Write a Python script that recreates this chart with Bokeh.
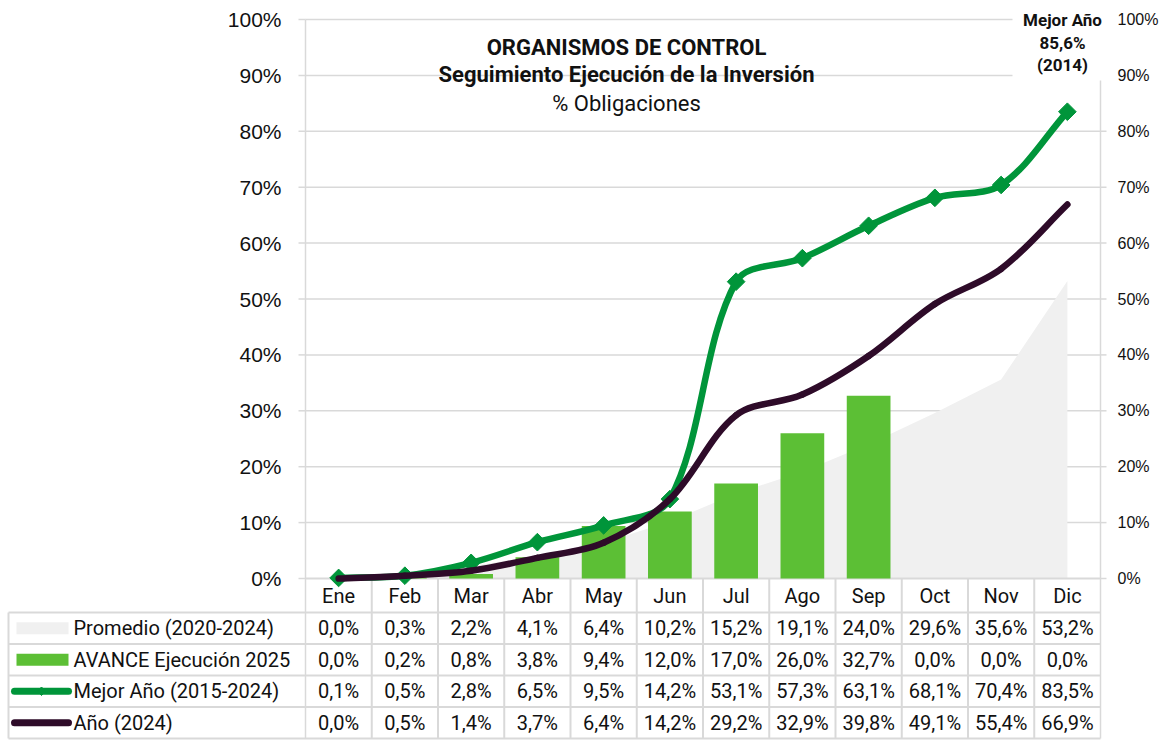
import math
from bokeh.plotting import figure
from bokeh.models import Range1d, ColumnDataSource
from bokeh.embed import file_html
from bokeh.resources import INLINE
from bokeh.core.properties import value

# ---------------- data ----------------
months = ["Ene", "Feb", "Mar", "Abr", "May", "Jun", "Jul", "Ago", "Sep", "Oct", "Nov", "Dic"]
promedio = [0.0, 0.3, 2.2, 4.1, 6.4, 10.2, 15.2, 19.1, 24.0, 29.6, 35.6, 53.2]
avance = [0.0, 0.2, 0.8, 3.8, 9.4, 12.0, 17.0, 26.0, 32.7, 0.0, 0.0, 0.0]
mejor = [0.1, 0.5, 2.8, 6.5, 9.5, 14.2, 53.1, 57.3, 63.1, 68.1, 70.4, 83.5]
anio = [0.0, 0.5, 1.4, 3.7, 6.4, 14.2, 29.2, 32.9, 39.8, 49.1, 55.4, 66.9]
series_names = ["Promedio (2020-2024)", "AVANCE Ejecución 2025", "Mejor Año (2015-2024)", "Año (2024)"]
y_ticks = [0, 10, 20, 30, 40, 50, 60, 70, 80, 90, 100]
y_tick_labels = ["%d%%" % v for v in y_ticks]
title_lines = ["ORGANISMOS DE CONTROL", "Seguimiento Ejecución de la Inversión", "% Obligaciones"]
note_lines = ["Mejor Año", "85,6%", "(2014)"]

# ---------------- style / layout ----------------
C_AREA = "#f0f0f0"
C_BAR = "#5cbf35"
C_BEST = "#00953a"
C_2024 = "#2e0b29"
C_GRID = "#d9d9d9"
C_TEXT = "#111111"
FONT = value("Roboto")
AXFONT = value("Liberation Sans")

W, H = 1159, 740
PLOT_L, PLOT_R = 305, 1100      # px of the plot area
PLOT_0, PLOT_100 = 578, 19      # px of 0% and 100%
CAT_PX = (PLOT_R - PLOT_L) / 12.0
PXU = (PLOT_0 - PLOT_100) / 100.0
HDR_BOT = 612
ROW_PX = 31.5
TAB_L = 8


def X(px):
    return (px - PLOT_L) / CAT_PX


def Y(py):
    return (PLOT_0 - py) / PXU


xs = [i + 0.5 for i in range(len(months))]


def smooth(xv, yv):
    """Bezier segments through the points (chord-weighted cardinal spline, like a smoothed line)."""
    n = len(xv)

    def dist(a, b):
        return math.hypot((xv[b] - xv[a]) * CAT_PX, (yv[b] - yv[a]) * PXU)

    d = dict(x0=[], y0=[], x1=[], y1=[], cx0=[], cy0=[], cx1=[], cy1=[])
    for i in range(n - 1):
        im = i - 1 if i > 0 else i
        ip = i + 2 if i + 2 < n else i + 1
        dc = dist(i, i + 1)
        dp = dist(im, i)
        dn = dist(i + 1, ip)
        w0 = dc / (dp + dc) / 3.0 if dp + dc > 0 else 0
        w1 = dc / (dc + dn) / 3.0 if dc + dn > 0 else 0
        tx0, ty0 = (xv[i + 1] - xv[im]), (yv[i + 1] - yv[im])
        tx1, ty1 = (xv[ip] - xv[i]), (yv[ip] - yv[i])
        if im == i:
            w0 = 1 / 3.0
        if ip == i + 1:
            w1 = 1 / 3.0
        d["x0"].append(xv[i]); d["y0"].append(yv[i])
        d["x1"].append(xv[i + 1]); d["y1"].append(yv[i + 1])
        d["cx0"].append(xv[i] + tx0 * w0)
        d["cy0"].append(yv[i] + ty0 * w0)
        d["cx1"].append(xv[i + 1] - tx1 * w1)
        d["cy1"].append(yv[i + 1] - ty1 * w1)
    return ColumnDataSource(d)


p = figure(width=W, height=H, x_range=Range1d(X(0), X(W)), y_range=Range1d(Y(H), Y(0)),
           output_backend="svg", toolbar_location=None,
           x_axis_location=None, y_axis_location=None,
           min_border_left=0, min_border_right=0, min_border_top=0, min_border_bottom=0)
p.outline_line_color = None
p.grid.visible = False

nrow = len(series_names)
row_tops = [Y(HDR_BOT + r * ROW_PX) for r in range(nrow + 1)]
row_mid = [Y(HDR_BOT + (r + 0.5) * ROW_PX) for r in range(nrow)]
tab_bot = row_tops[-1]

# gridlines
gt = y_ticks[1:]
p.segment(x0=[0] * len(gt), x1=[12] * len(gt), y0=gt, y1=gt, line_color=C_GRID, line_width=1.5)

# area + zero line + bars
p.varea(x=xs, y1=[0] * len(xs), y2=promedio, fill_color=C_AREA)
p.segment(x0=[0], x1=[12], y0=[0], y1=[0], line_color=C_GRID, line_width=2)
p.vbar(x=xs, top=avance, width=0.66, fill_color=C_BAR, line_color=None)

# axis lines (continuing as table borders), header separators and table grid
p.segment(x0=[0, 12], x1=[0, 12], y0=[100, 100], y1=[tab_bot, tab_bot], line_color=C_GRID, line_width=1.5)
sep = list(range(1, 12))
p.segment(x0=sep, x1=sep, y0=[0] * len(sep), y1=[tab_bot] * len(sep), line_color=C_GRID, line_width=2)
p.segment(x0=[X(TAB_L)], x1=[X(TAB_L)], y0=[row_tops[0]], y1=[tab_bot], line_color=C_GRID, line_width=2)
p.segment(x0=[X(TAB_L)] * (nrow + 1), x1=[12] * (nrow + 1), y0=row_tops, y1=row_tops,
          line_color=C_GRID, line_width=2)

# axis ticks
p.segment(x0=[X(PLOT_L - 7)] * len(y_ticks), x1=[0] * len(y_ticks), y0=y_ticks, y1=y_ticks,
          line_color=C_GRID, line_width=1.5)
p.segment(x0=[12] * len(y_ticks), x1=[X(PLOT_R + 6)] * len(y_ticks), y0=y_ticks, y1=y_ticks,
          line_color=C_GRID, line_width=1.5)
p.text(x=[X(281)] * len(y_ticks), y=y_ticks, text=y_tick_labels, text_align="right",
       text_baseline="middle", text_font=AXFONT, text_font_size="21px", text_color=C_TEXT)
p.text(x=[X(1117)] * len(y_ticks), y=y_ticks, text=y_tick_labels, text_align="left",
       text_baseline="middle", text_font=AXFONT, text_font_size="16px", text_color=C_TEXT)

# lines
p.bezier(source=smooth(xs, mejor), x0="x0", y0="y0", x1="x1", y1="y1", cx0="cx0", cy0="cy0",
         cx1="cx1", cy1="cy1", line_color=C_BEST, line_width=6.5, line_cap="round")
p.scatter(xs, mejor, marker="square", angle=math.pi / 4, size=12.5, fill_color=C_BEST, line_color=C_BEST)
p.bezier(source=smooth(xs, anio), x0="x0", y0="y0", x1="x1", y1="y1", cx0="cx0", cy0="cy0",
         cx1="cx1", cy1="cy1", line_color=C_2024, line_width=6.5, line_cap="round")

# note box "Mejor Año"
p.quad(left=[X(1012)], right=[X(1108)], top=[Y(3)], bottom=[Y(80)], fill_color="white", line_color=None)
p.text(x=[X(1062)] * 3, y=[Y(19), Y(42), Y(64)], text=note_lines, text_align="center",
       text_baseline="middle", text_font=FONT, text_font_size="17px", text_font_style="bold",
       text_color=C_TEXT)

# title
tx = X(626)
p.text(x=[tx, tx], y=[Y(47), Y(74)], text=title_lines[:2], text_align="center", text_baseline="middle",
       text_font=FONT, text_font_size="22px", text_font_style="bold", text_color=C_TEXT)
p.text(x=[tx], y=[Y(103)], text=title_lines[2:], text_align="center", text_baseline="middle",
       text_font=FONT, text_font_size="22px", text_color=C_TEXT)

# header row
p.text(x=xs, y=[Y((PLOT_0 + HDR_BOT) / 2)] * len(xs), text=months, text_align="center",
       text_baseline="middle", text_font=FONT, text_font_size="20px", text_color=C_TEXT)

# legend keys + series names
p.rect(x=[X(42)] * 2, y=row_mid[:2], width=52 / CAT_PX, height=12 / PXU,
       fill_color=[C_AREA, C_BAR], line_color=None)
p.segment(x0=[X(14)] * 2, x1=[X(68)] * 2, y0=row_mid[2:], y1=row_mid[2:],
          line_color=[C_BEST, C_2024], line_width=7, line_cap="round")
p.scatter([X(41)], [row_mid[2]], marker="square", angle=math.pi / 4, size=6,
          fill_color=C_BEST, line_color=C_BEST)
p.text(x=[X(73)] * nrow, y=row_mid, text=series_names, text_align="left", text_baseline="middle",
       text_font=FONT, text_font_size="20px", text_color=C_TEXT)

# values
for r, vals in enumerate([promedio, avance, mejor, anio]):
    labels = [("%.1f%%" % v).replace(".", ",") for v in vals]
    p.text(x=xs, y=[row_mid[r]] * len(xs), text=labels, text_align="center",
           text_baseline="middle", text_font=FONT, text_font_size="20px", text_color=C_TEXT)

open("out.html", "w").write(file_html(p, INLINE))
